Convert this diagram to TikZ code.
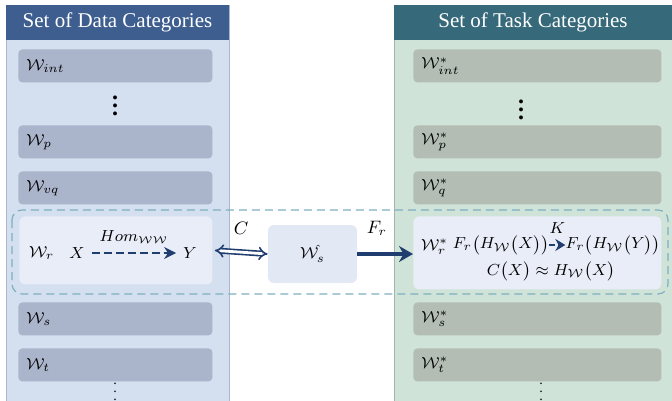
\documentclass[tikz,border=0pt]{standalone}
\usepackage{amsmath}
\usepackage{fontspec}
\setmainfont{Liberation Serif}
\usetikzlibrary{arrows.meta}

\definecolor{dataHead}{HTML}{3D5E8F}
\definecolor{dataBody}{HTML}{D4DFF0}
\definecolor{dataLine}{HTML}{A7B6D2}
\definecolor{dataItem}{HTML}{AAB4CA}
\definecolor{taskHead}{HTML}{36697A}
\definecolor{taskBody}{HTML}{D0E3D8}
\definecolor{taskLine}{HTML}{9EB8A9}
\definecolor{taskItem}{HTML}{B3BDB4}
\definecolor{lightItem}{HTML}{E9EDF8}
\definecolor{midItem}{HTML}{E3E8F5}
\definecolor{groupLine}{HTML}{7EB0C0}
\definecolor{arrowBlue}{HTML}{1F3D6E}

\begin{document}
\begin{tikzpicture}[x={(0.5pt,0)}, y={(0,-0.5pt)},
    font=\fontsize{8}{9.6}\selectfont,
    head/.style={text=white, font=\fontsize{10.5}{12}\selectfont},
    dataitem/.style={fill=dataItem, rounded corners=2pt, anchor=north west,
      minimum height=16.5pt, text width=89pt, inner xsep=4pt, align=left},
    taskitem/.style={fill=taskItem, rounded corners=2pt, anchor=north west,
      minimum height=16.5pt, text width=116pt, inner xsep=4pt, align=left},
    formula/.style={font=\fontsize{8.2}{10}\selectfont, inner sep=0pt},
    vdot/.style={font=\fontsize{12}{12}\selectfont\bfseries, inner sep=0pt},
    smalldot/.style={font=\fontsize{7}{7}\selectfont, inner sep=0pt}]

  % frame of the picture
  \useasboundingbox (0,0) rectangle (672,400);

  % Set of Data Categories
  \fill[dataBody, draw=dataLine] (6,5) rectangle (229,402);
  \fill[dataHead] (6,5) rectangle (229,40);
  \node[head] (dhead) at (117.5,22.5) {Set of Data Categories};

  % Set of Task Categories
  \fill[taskBody, draw=taskLine] (394,5) rectangle (674,402);
  \fill[taskHead] (394,5) rectangle (674,40);
  \node[head] (thead) at (533,22.5) {Set of Task Categories};

  % the group that ties W_r, W_s^ and W_r^*
  \draw[groupLine, dashed, dash pattern=on 4pt off 2.5pt, line width=0.6pt,
    rounded corners=5pt] (12,210) rectangle (668,294);

  % data items
  \node[dataitem] (dint) at (18,49)  {$\mathcal{W}_{int}$};
  \node[vdot]     (ddots) at (115,100) {$\vdots$};
  \node[dataitem] (dp)   at (18,125) {$\mathcal{W}_{p}$};
  \node[dataitem] (dvq)  at (18,171) {$\mathcal{W}_{vq}$};
  \node[fill=lightItem, rounded corners=3pt, anchor=north west,
    minimum width=96.5pt, minimum height=34pt] (dr) at (19,216) {};
  \node[dataitem] (ds)   at (18,302) {$\mathcal{W}_{s}$};
  \node[dataitem] (dt)   at (18,348) {$\mathcal{W}_{t}$};
  \node[smalldot] (dend) at (115,386) {$\vdots$};

  \node[anchor=west] (wr) at (22,253) {$\mathcal{W}_{r}$};
  \node (xd) at (77,253) {$X$};
  \node (yd) at (190,253) {$Y$};
  \draw[arrowBlue, line width=1.3pt, dash pattern=on 4pt off 2pt,
    -{Stealth[length=6pt,width=6pt]}] (xd) -- node[above=1pt, black]
    {$Hom_{\scriptscriptstyle\mathcal{W}\mathcal{W}}$} (yd);

  % middle
  \node[fill=midItem, rounded corners=3pt, minimum width=44.5pt,
    minimum height=29pt] (ws) at (312.5,254) {$\mathcal{W}_{s}^{\hat{}}$};

  % task items
  \node[taskitem] (tint) at (413,49)  {$\mathcal{W}_{int}^{*}$};
  \node[vdot]     (tdots) at (521,104) {$\vdots$};
  \node[taskitem] (tp)   at (413,125) {$\mathcal{W}_{p}^{*}$};
  \node[taskitem] (tq)   at (413,171) {$\mathcal{W}_{q}^{*}$};
  \node[fill=lightItem, rounded corners=3pt, anchor=north west,
    minimum width=124pt, minimum height=36.5pt] (tr) at (413,216) {};
  \node[taskitem] (ts)   at (413,302) {$\mathcal{W}_{s}^{*}$};
  \node[taskitem] (tt)   at (413,348) {$\mathcal{W}_{t}^{*}$};
  \node[smalldot] (tend) at (541,386) {$\vdots$};

  \node[anchor=west] (wrs) at (414,247) {$\mathcal{W}_{r}^{*}$};
  \node[formula] (fx) at (501,245)
    {$F_r\bigl(H_{\mathcal{W}}\bigl(X\bigr)\bigr)$};
  \node[formula] (fy) at (613,245)
    {$F_r\bigl(H_{\mathcal{W}}\bigl(Y\bigr)\bigr)$};
  \draw[arrowBlue, line width=1.3pt, dash pattern=on 3pt off 1.5pt,
    -{Stealth[length=5pt,width=6pt]}] (fx) -- node[above=2pt, black] {$K$} (fy);
  \node[formula] (cx) at (551,271)
    {$C\bigl(X\bigr)\approx H_{\mathcal{W}}\bigl(X\bigr)$};

  % C and F_r
  \draw[arrowBlue, double=white, double distance=1.4pt, line width=0.8pt,
    {Implies[length=4pt]}-{Implies[length=4pt]}] (dr.east) ++(2,0) coordinate (cl) (cl)
    -- node[above=5pt, black, font=\fontsize{9}{10}\selectfont] {$C$} (ws.west);
  \draw[arrowBlue, line width=1.6pt, -{Stealth[length=7pt,width=8pt]}]
    (ws.east) -- node[pos=0.35, above=5pt, black, font=\fontsize{9}{10}\selectfont] {$F_r$}
    (ws.east -| tr.west);
\end{tikzpicture}
\end{document}
